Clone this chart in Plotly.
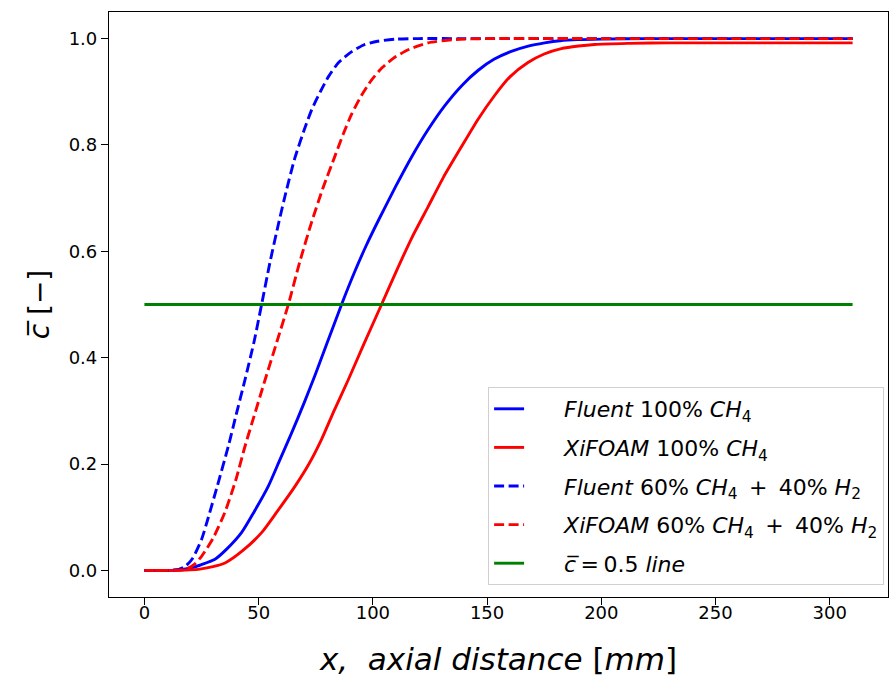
import plotly.graph_objects as go

# ---- data ----
fluent_ch4_x = [0, 10, 15, 20.7, 25, 30.9, 36, 42.5, 48, 54.2, 59, 64.4, 70, 74.6, 80, 86.3, 92, 97,
                102.3, 110, 116.9, 124.2, 131.5, 139, 146, 153, 160.6, 168, 175.2, 182, 189.8, 200, 220, 310]
fluent_ch4_y = [0, 0, 0.001, 0.005, 0.011, 0.021, 0.04, 0.071, 0.11, 0.158, 0.205, 0.258, 0.316, 0.366,
                0.428, 0.5, 0.561, 0.61, 0.657, 0.722, 0.777, 0.829, 0.874, 0.912, 0.94, 0.961, 0.976,
                0.986, 0.992, 0.996, 0.998, 0.999, 1.0, 1.0]

xifoam_ch4_x = [0, 15, 23.6, 30, 35.3, 43, 51.3, 58, 65.9, 72, 77.5, 83, 89.2, 96, 103.8, 110, 117,
                124.2, 131, 138.7, 146, 153.3, 160, 167.9, 175, 182.5, 190, 197.1, 211.6, 230, 310]
xifoam_ch4_y = [0, 0, 0.002, 0.007, 0.014, 0.037, 0.071, 0.11, 0.158, 0.2, 0.246, 0.3, 0.358, 0.425,
                0.5, 0.56, 0.625, 0.684, 0.74, 0.796, 0.848, 0.893, 0.928, 0.955, 0.971, 0.981, 0.986,
                0.989, 0.991, 0.992, 0.992]

fluent_h2_x = [0, 10, 15, 18, 21, 25, 28, 32, 36.7, 40, 44, 48, 51.3, 55, 58.6, 62, 65.9, 70, 73.2,
               77, 80.5, 85, 90.6, 96, 102, 110, 120, 140, 200, 310]
fluent_h2_y = [0, 0, 0.002, 0.008, 0.022, 0.058, 0.1, 0.16, 0.233, 0.29, 0.358, 0.43, 0.5, 0.58,
               0.65, 0.712, 0.776, 0.829, 0.866, 0.9, 0.928, 0.955, 0.975, 0.988, 0.995, 0.999,
               1.0, 1.0, 1.0, 1.0]

xifoam_h2_x = [0, 10, 18, 22, 25.1, 30, 35.3, 40, 44, 48, 52.8, 58, 63, 68, 73.2, 78, 83.4, 87, 90.6,
               95, 99.4, 104, 109.6, 116, 124.2, 135, 150, 200, 310]
xifoam_h2_y = [0, 0, 0.002, 0.012, 0.027, 0.06, 0.11, 0.17, 0.233, 0.29, 0.358, 0.43, 0.5, 0.58,
               0.655, 0.717, 0.779, 0.82, 0.857, 0.893, 0.922, 0.945, 0.965, 0.98, 0.992, 0.998,
               1.0, 1.0, 1.0]

line_x = [0, 310]
line_y = [0.5, 0.5]

x_ticks = [0, 50, 100, 150, 200, 250, 300]
y_ticks = [0.0, 0.2, 0.4, 0.6, 0.8, 1.0]

PAD = "\u00a0" * 5
SP = " \u2009"
names = [
    f"{PAD}<i>Fluent</i> 100% <i>CH</i><sub>4</sub>",
    f"{PAD}<i>XiFOAM</i> 100% <i>CH</i><sub>4</sub>",
    f"{PAD}<i>Fluent</i> 60% <i>CH</i><sub>4</sub>{SP}+{SP}40% <i>H</i><sub>2</sub>",
    f"{PAD}<i>XiFOAM</i> 60% <i>CH</i><sub>4</sub>{SP}+{SP}40% <i>H</i><sub>2</sub>",
    f"{PAD}<i>c\u0305</i>\u2009=\u20090.5 <i>line</i>",
]

FONT = "DejaVu Sans"
LW = 2.9
DASH = "10px,4.5px"

fig = go.Figure()
series = [
    (fluent_ch4_x, fluent_ch4_y, "#0000ff", "solid"),
    (xifoam_ch4_x, xifoam_ch4_y, "#ff0000", "solid"),
    (fluent_h2_x, fluent_h2_y, "#0000ff", DASH),
    (xifoam_h2_x, xifoam_h2_y, "#ff0000", DASH),
    (line_x, line_y, "#008000", "solid"),
]
for i, (xs, ys, col, dash) in enumerate(series):
    fig.add_trace(go.Scatter(
        x=xs, y=ys, mode="lines", name=names[i], legendgroup=f"g{i}",
        line=dict(color=col, width=LW, dash=dash, shape="spline", smoothing=0.6),
    ))

axis_common = dict(
    showline=True, linecolor="black", linewidth=1.2, mirror=True,
    ticks="outside", ticklen=7, tickwidth=1.2, tickcolor="black",
    showgrid=False, zeroline=False, automargin=False,
    tickfont=dict(family=FONT, size=18, color="black"),
)

fig.update_layout(
    width=891, height=677,
    margin=dict(l=109, r=3, t=12, b=80),
    paper_bgcolor="white", plot_bgcolor="white",
    font=dict(family=FONT, color="black"),
    xaxis=dict(range=[-15.5, 325.5], tickvals=x_ticks, ticklabelstandoff=-8,
               title=dict(text="<i>x,  axial distance </i>[<i>mm</i>]",
                          font=dict(family=FONT, size=31), standoff=26),
               **axis_common),
    yaxis=dict(range=[-0.05, 1.05], tickvals=y_ticks, tickformat=".1f", ticklabelstandoff=0,
               title=dict(text="<i>c\u0305</i> [\u2212]", font=dict(family=FONT, size=28), standoff=10),
               **axis_common),
    legend=dict(
        x=0.995, y=0.0205, xanchor="right", yanchor="bottom",
        bgcolor="rgba(255,255,255,0.85)", bordercolor="#d0d0d0", borderwidth=1,
        font=dict(family=FONT, size=22, color="black"),
        tracegroupgap=7, traceorder="grouped",
    ),
    showlegend=True,
)

# remove the page's default body margin so the figure fills the window exactly
fig.write_html(
    "out.html",
    config={"displayModeBar": False},
    post_script="document.body.style.margin='0';document.body.style.overflow='hidden';",
)
